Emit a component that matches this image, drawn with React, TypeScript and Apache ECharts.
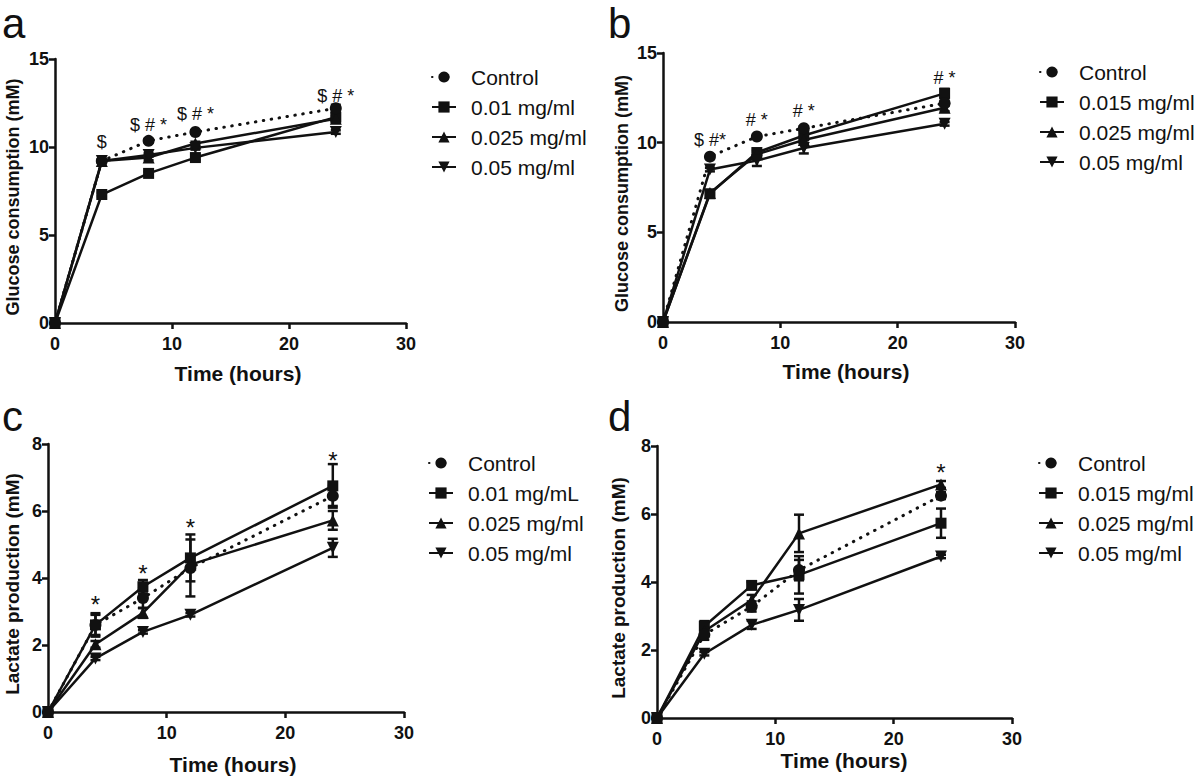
import React, { useEffect, useRef } from "react";
import * as echarts from "echarts";

const FONT = "'Liberation Sans', Arial, Helvetica, sans-serif";
const INK = "#111111";

const TIMES = [0, 4, 8, 12, 24];
const X_TICKS = { min: 0, max: 30, interval: 10 };

// ---- Panel a : glucose consumption ----
const A_NAMES = ["Control", "0.01 mg/ml", "0.025 mg/ml", "0.05 mg/ml"];
const A_CONTROL = [0, 9.2, 10.35, 10.85, 12.2];
const A_LOW = [0, 7.3, 8.5, 9.4, 11.7];
const A_MID = [0, 9.2, 9.4, 10.2, 11.6];
const A_HIGH = [0, 9.2, 9.55, 9.95, 10.85];
const A_ERR_CONTROL = [0, 0.1, 0.1, 0.1, 0.2];
const A_ERR_LOW = [0, 0.1, 0.1, 0.15, 0.25];
const A_ERR_MID = [0, 0.1, 0.15, 0.1, 0.15];
const A_ERR_HIGH = [0, 0.1, 0.1, 0.1, 0.1];
const A_MARK_POS = [[4, 10.3], [8, 11.25], [12, 11.85], [24, 12.9]];
const A_MARK_TXT = ["$", "$ # *", "$ # *", "$ # *"];

// ---- Panel b : glucose consumption ----
const B_NAMES = ["Control", "0.015 mg/ml", "0.025 mg/ml", "0.05 mg/ml"];
const B_CONTROL = [0, 9.22, 10.34, 10.8, 12.2];
const B_LOW = [0, 7.15, 9.45, 10.4, 12.75];
const B_MID = [0, 7.2, 9.35, 10.15, 11.95];
const B_HIGH = [0, 8.5, 9.0, 9.7, 11.05];
const B_ERR_CONTROL = [0, 0.1, 0.1, 0.1, 0.15];
const B_ERR_LOW = [0, 0.2, 0.15, 0.15, 0.25];
const B_ERR_MID = [0, 0.15, 0.15, 0.2, 0.2];
const B_ERR_HIGH = [0, 0.1, 0.3, 0.3, 0.1];
const B_MARK_POS = [[4, 10.15], [8, 11.25], [12, 11.75], [24, 13.6]];
const B_MARK_TXT = ["$ #*", "# *", "# *", "# *"];

// ---- Panel c : lactate production ----
const C_NAMES = ["Control", "0.01 mg/mL", "0.025 mg/ml", "0.05 mg/ml"];
const C_CONTROL = [0, 2.6, 3.4, 4.3, 6.45];
const C_LOW = [0, 2.6, 3.74, 4.6, 6.75];
const C_MID = [0, 2.02, 2.96, 4.4, 5.72];
const C_HIGH = [0, 1.6, 2.39, 2.9, 4.9];
const C_ERR_CONTROL = [0, 0.3, 0.3, 0.85, 0.3];
const C_ERR_LOW = [0, 0.35, 0.2, 0.7, 0.65];
const C_ERR_MID = [0, 0.1, 0.15, 0.1, 0.28];
const C_ERR_HIGH = [0, 0.05, 0.05, 0.05, 0.27];
const C_MARK_POS = [[4, 3.4], [8, 4.32], [12, 5.68], [24, 7.7]];
const C_MARK_TXT = ["*", "*", "*", "*"];

// ---- Panel d : lactate production ----
const D_NAMES = ["Control", "0.015 mg/ml", "0.025 mg/ml", "0.05 mg/ml"];
const D_CONTROL = [0, 2.45, 3.28, 4.35, 6.54];
const D_LOW = [0, 2.7, 3.9, 4.21, 5.73];
const D_MID = [0, 2.55, 3.47, 5.43, 6.87];
const D_HIGH = [0, 1.89, 2.74, 3.18, 4.75];
const D_ERR_CONTROL = [0, 0.15, 0.15, 0.3, 0.1];
const D_ERR_LOW = [0, 0.15, 0.1, 0.55, 0.43];
const D_ERR_MID = [0, 0.1, 0.15, 0.55, 0.1];
const D_ERR_HIGH = [0, 0.05, 0.12, 0.32, 0.05];
const D_MARK_POS = [[24, 7.39]];
const D_MARK_TXT = ["*"];

const DOWN_TRI = "path://M0,0L20,0L10,18Z";
const SYMBOLS = ["circle", "rect", "triangle", DOWN_TRI];
const SYMBOL_SIZES = [12, 11, 12, 12];

type Panel = {
  letter: string;
  names: string[];
  values: number[][];
  errs: number[][];
  markPos: number[][];
  markTxt: string[];
  markSize: number;
  markDy: number;
  yMax: number;
  yInterval: number;
  yTitle: string;
  yTitleSize: number;
  grid: { left: number; top: number; width: number; height: number };
  legend: { left: number; top: number };
  letterPos: [number, number];
  yTitleX: number;
  xTitleY: number;
  xTitleX: number;
};

const PANELS: Panel[] = [
  {
    letter: "a",
    names: A_NAMES,
    values: [A_CONTROL, A_LOW, A_MID, A_HIGH],
    errs: [A_ERR_CONTROL, A_ERR_LOW, A_ERR_MID, A_ERR_HIGH],
    markPos: A_MARK_POS,
    markTxt: A_MARK_TXT,
    markSize: 18,
    markDy: 0,
    yMax: 15,
    yInterval: 5,
    yTitle: "Glucose consumption (mM)",
    yTitleSize: 18,
    grid: { left: 55, top: 59, width: 351, height: 264 },
    legend: { left: 431, top: 65 },
    letterPos: [2, 2],
    yTitleX: 13,
    xTitleY: 373,
    xTitleX: 238,
  },
  {
    letter: "b",
    names: B_NAMES,
    values: [B_CONTROL, B_LOW, B_MID, B_HIGH],
    errs: [B_ERR_CONTROL, B_ERR_LOW, B_ERR_MID, B_ERR_HIGH],
    markPos: B_MARK_POS,
    markTxt: B_MARK_TXT,
    markSize: 18,
    markDy: 0,
    yMax: 15,
    yInterval: 5,
    yTitle: "Glucose consumption (mM)",
    yTitleSize: 18,
    grid: { left: 663, top: 53, width: 352, height: 269 },
    legend: { left: 1039, top: 60 },
    letterPos: [608, 2],
    yTitleX: 622,
    xTitleY: 371,
    xTitleX: 846,
  },
  {
    letter: "c",
    names: C_NAMES,
    values: [C_CONTROL, C_LOW, C_MID, C_HIGH],
    errs: [C_ERR_CONTROL, C_ERR_LOW, C_ERR_MID, C_ERR_HIGH],
    markPos: C_MARK_POS,
    markTxt: C_MARK_TXT,
    markSize: 24,
    markDy: 6,
    yMax: 8,
    yInterval: 2,
    yTitle: "Lactate production (mM)",
    yTitleSize: 19,
    grid: { left: 48, top: 444, width: 356, height: 268 },
    legend: { left: 428, top: 451 },
    letterPos: [2, 395],
    yTitleX: 12,
    xTitleY: 764,
    xTitleX: 233,
  },
  {
    letter: "d",
    names: D_NAMES,
    values: [D_CONTROL, D_LOW, D_MID, D_HIGH],
    errs: [D_ERR_CONTROL, D_ERR_LOW, D_ERR_MID, D_ERR_HIGH],
    markPos: D_MARK_POS,
    markTxt: D_MARK_TXT,
    markSize: 24,
    markDy: 6,
    yMax: 8,
    yInterval: 2,
    yTitle: "Lactate production (mM)",
    yTitleSize: 19,
    grid: { left: 657, top: 446, width: 355, height: 272 },
    legend: { left: 1038, top: 451 },
    letterPos: [608, 395],
    yTitleX: 618,
    xTitleY: 760,
    xTitleX: 844,
  },
];

function buildOption() {
  const grid: any[] = [];
  const xAxis: any[] = [];
  const yAxis: any[] = [];
  const series: any[] = [];
  const legend: any[] = [];
  const graphic: any[] = [];

  const axisCommon = {
    type: "value",
    splitLine: { show: false },
    axisLine: { show: true, onZero: false, lineStyle: { color: INK, width: 2.5 } },
    axisTick: { show: true, length: 6, lineStyle: { color: INK, width: 2.5 } },
    axisLabel: { color: INK, fontSize: 18, fontWeight: "bold", fontFamily: FONT },
  };

  PANELS.forEach((p, g) => {
    grid.push({ ...p.grid, containLabel: false });
    xAxis.push({
      ...axisCommon,
      gridIndex: g,
      min: X_TICKS.min,
      max: X_TICKS.max,
      interval: X_TICKS.interval,
      axisLabel: { ...axisCommon.axisLabel, margin: 12 },
    });
    yAxis.push({
      ...axisCommon,
      gridIndex: g,
      min: 0,
      max: p.yMax,
      interval: p.yInterval,
      axisLabel: { ...axisCommon.axisLabel, margin: 6 },
    });

    // error bars
    p.values.forEach((vals, s) => {
      const errs = p.errs[s];
      series.push({
        type: "custom",
        xAxisIndex: g,
        yAxisIndex: g,
        silent: true,
        z: 2,
        clip: false,
        encode: { x: 0, y: 1 },
        data: TIMES.map((t, i) => [t, vals[i], errs[i]]).filter((d) => d[2] > 0),
        renderItem: (params: any, api: any) => {
          const x = api.value(0);
          const y = api.value(1);
          const e = api.value(2);
          const top = api.coord([x, y + e]);
          const bot = api.coord([x, y - e]);
          const hw = 5;
          const st = { stroke: INK, lineWidth: 2.5 };
          return {
            type: "group",
            children: [
              { type: "line", shape: { x1: top[0], y1: top[1], x2: bot[0], y2: bot[1] }, style: st },
              { type: "line", shape: { x1: top[0] - hw, y1: top[1], x2: top[0] + hw, y2: top[1] }, style: st },
              { type: "line", shape: { x1: bot[0] - hw, y1: bot[1], x2: bot[0] + hw, y2: bot[1] }, style: st },
            ],
          };
        },
      });
    });

    // lines
    p.values.forEach((vals, s) => {
      const dotted = s === 0;
      series.push({
        type: "line",
        name: p.names[s],
        xAxisIndex: g,
        yAxisIndex: g,
        data: TIMES.map((t, i) => [t, vals[i]]),
        symbol: SYMBOLS[s],
        symbolSize: SYMBOL_SIZES[s],
        showAllSymbol: true,
        clip: false,
        lineStyle: {
          color: INK,
          width: dotted ? 3 : 2.5,
          type: dotted ? [0.5, 7.5] : "solid",
          cap: dotted ? "round" : "butt",
        },
        itemStyle: { color: INK },
        z: dotted ? 4 : 3,
      });
    });

    // significance marks
    const txt = p.markTxt;
    const size = p.markSize;
    const dy = p.markDy;
    series.push({
      type: "custom",
      xAxisIndex: g,
      yAxisIndex: g,
      silent: true,
      clip: false,
      z: 5,
      encode: { x: 0, y: 1 },
      data: p.markPos,
      renderItem: (params: any, api: any) => {
        const pt = api.coord([api.value(0), api.value(1)]);
        return {
          type: "text",
          x: pt[0],
          y: pt[1] + dy,
          style: {
            text: txt[params.dataIndex],
            fill: INK,
            font: `${size}px ${FONT}`,
            align: "center",
            verticalAlign: "middle",
            textAlign: "center",
            textVerticalAlign: "middle",
          },
        };
      },
    });

    legend.push({
      data: p.names,
      left: p.legend.left,
      top: p.legend.top,
      padding: 0,
      orient: "vertical",
      itemWidth: 24,
      itemHeight: 14,
      itemGap: 6,
      selectedMode: false,
      textStyle: {
        fontSize: 21,
        fontFamily: FONT,
        color: INK,
        lineHeight: 24,
        padding: [0, 0, 0, 10],
      },
    });

    graphic.push({
      type: "text",
      left: p.letterPos[0],
      top: p.letterPos[1],
      style: { text: p.letter, fill: INK, font: `42px ${FONT}` },
    });
    graphic.push({
      type: "text",
      x: p.yTitleX,
      y: p.grid.top + p.grid.height / 2 + 6,
      rotation: Math.PI / 2,
      style: {
        text: p.yTitle,
        fill: INK,
        font: `bold ${p.yTitleSize}px ${FONT}`,
        textAlign: "center",
        textVerticalAlign: "middle",
        align: "center",
        verticalAlign: "middle",
      },
    });
    graphic.push({
      type: "text",
      x: p.xTitleX,
      y: p.xTitleY,
      style: {
        text: "Time (hours)",
        fill: INK,
        font: `bold 21px ${FONT}`,
        textAlign: "center",
        textVerticalAlign: "middle",
        align: "center",
        verticalAlign: "middle",
      },
    });
  });

  return {
    animation: false,
    backgroundColor: "#ffffff",
    grid,
    xAxis,
    yAxis,
    series,
    legend,
    graphic,
  };
}

export default function App() {
  const ref = useRef<HTMLDivElement>(null);
  useEffect(() => {
    if (!ref.current) return;
    const chart = echarts.init(ref.current, undefined, { renderer: "svg" });
    chart.setOption(buildOption() as any);
    return () => chart.dispose();
  }, []);
  return (
    <div
      ref={ref}
      style={{ position: "absolute", left: 0, top: 0, width: 1200, height: 778 }}
    />
  );
}
